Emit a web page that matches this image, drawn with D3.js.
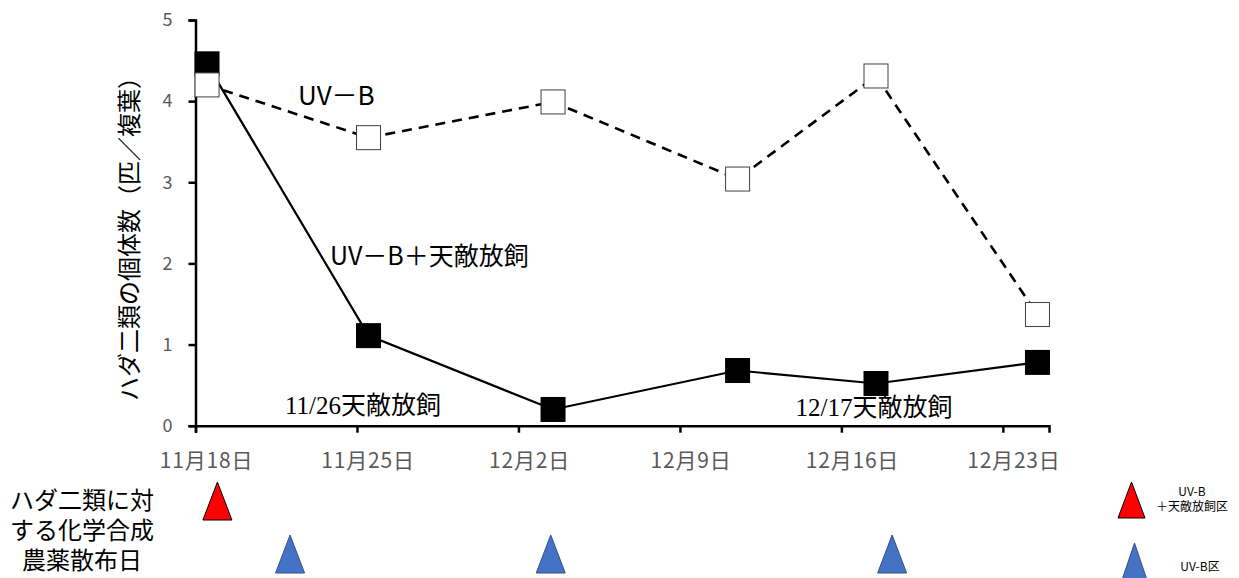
<!DOCTYPE html>
<html>
<head>
    <meta charset="utf-8">
    <title>ハダ二類の個体数</title>
    <script src="https://d3js.org/d3.v7.min.js"></script>
    <style>
        body { margin: 0; background: #fff; }
        text { font-family: "Noto Sans CJK JP", "Noto Sans", sans-serif; }
        .tick-label { fill: #595959; }
        .serif { font-family: "Liberation Serif", "Noto Sans CJK JP", serif; }
    </style>
</head>
<body>
    <div id="chart"></div>

    <script>
        // data (x = days since 11/18)
        const days = [0.5, 7.5, 15.5, 23.5, 29.5, 36.5];
        const uvb = [4.20, 3.55, 3.99, 3.04, 4.31, 1.37];          // UV-B (white squares, dashed)
        const uvbEnemy = [4.46, 1.11, 0.20, 0.68, 0.52, 0.78];     // UV-B + 天敵放飼 (black squares, solid)
        const tickDays = [0, 7, 14, 21, 28, 35];
        const tickLabels = ["11月18日", "11月25日", "12月2日", "12月9日", "12月16日", "12月23日"];
        const yTicks = [0, 1, 2, 3, 4, 5];
        // pesticide spray days
        const redSpray = [0.95];
        const blueSpray = [4.1, 15.4, 30.2];

        const W = 1239, H = 578;
        const svg = d3.select("#chart").append("svg")
            .attr("width", W)
            .attr("height", H);

        const x = d3.scaleLinear().domain([0, 37]).range([195.5, 1049]);
        const y = d3.scaleLinear().domain([0, 5]).range([425.7, 20]);

        // axes
        const yAxis = svg.append("g")
            .attr("transform", `translate(${x(0)},0)`)
            .call(d3.axisLeft(y).tickValues(yTicks).tickSize(7).tickPadding(16).tickFormat(d3.format("d")));
        yAxis.select(".domain").attr("stroke", "#000").attr("stroke-width", 2.5);
        yAxis.selectAll(".tick line").attr("stroke", "#000").attr("stroke-width", 2.5);
        yAxis.selectAll(".tick text")
            .attr("class", "tick-label")
            .attr("font-size", 18)
            .attr("font-family", "Noto Sans CJK JP");

        const xAxis = svg.append("g")
            .attr("transform", `translate(0,${y(0)})`)
            .call(d3.axisBottom(x).tickValues(tickDays).tickSize(7).tickPadding(20)
                .tickFormat((d, i) => tickLabels[i]));
        xAxis.select(".domain").attr("stroke", "#000").attr("stroke-width", 2.5);
        xAxis.selectAll(".tick line").attr("stroke", "#000").attr("stroke-width", 2.5);
        // labels sit at the middle of the day, half a day right of the tick
        const halfDay = x(0.5) - x(0);
        xAxis.selectAll(".tick text")
            .attr("class", "tick-label")
            .attr("x", halfDay - 1)
            .attr("font-size", 21)
            .attr("letter-spacing", 0.8)
            .attr("font-family", "Noto Sans CJK JP");

        // y axis title
        svg.append("text")
            .attr("transform", "translate(127,233) rotate(-90)")
            .attr("text-anchor", "middle")
            .attr("dominant-baseline", "central")
            .attr("font-size", 24)
            .attr("fill", "#000")
            .text("ハダ二類の個体数（匹／複葉）");

        const line = d3.line()
            .x((d, i) => x(days[i]))
            .y(d => y(d));

        const sq = 25;

        // UV-B + natural enemy (solid, black squares)
        svg.append("path")
            .datum(uvbEnemy)
            .attr("d", line)
            .attr("fill", "none")
            .attr("stroke", "#000")
            .attr("stroke-width", 2.2);
        svg.selectAll(".sq-black")
            .data(uvbEnemy)
            .join("rect")
            .attr("class", "sq-black")
            .attr("x", (d, i) => x(days[i]) - sq / 2)
            .attr("y", d => y(d) - sq / 2)
            .attr("width", sq)
            .attr("height", sq)
            .attr("fill", "#000");

        // UV-B (dashed, white squares)
        svg.append("path")
            .datum(uvb)
            .attr("d", line)
            .attr("fill", "none")
            .attr("stroke", "#000")
            .attr("stroke-width", 2.6)
            .attr("stroke-dasharray", "10,7");
        svg.selectAll(".sq-white")
            .data(uvb)
            .join("rect")
            .attr("class", "sq-white")
            .attr("x", (d, i) => x(days[i]) - sq / 2 + 0.5)
            .attr("y", d => y(d) - sq / 2 + 0.5)
            .attr("width", sq - 1)
            .attr("height", sq - 1)
            .attr("fill", "#fff")
            .attr("stroke", "#404040")
            .attr("stroke-width", 1);

        // annotations
        svg.append("text").attr("x", 298).attr("y", 105)
            .attr("font-size", 26).text("UV－B");
        svg.append("text").attr("x", 330).attr("y", 265)
            .attr("font-size", 25).text("UV－B＋天敵放飼");
        svg.append("text").attr("class", "serif").attr("x", 363).attr("y", 414)
            .attr("text-anchor", "middle").attr("font-size", 25).text("11/26天敵放飼");
        svg.append("text").attr("class", "serif").attr("x", 874).attr("y", 416)
            .attr("text-anchor", "middle").attr("font-size", 25).text("12/17天敵放飼");

        // spray label
        const sprayLines = ["ハダ二類に対", "する化学合成", "農薬散布日"];
        svg.append("text")
            .attr("text-anchor", "middle")
            .attr("font-size", 24)
            .selectAll("tspan")
            .data(sprayLines)
            .join("tspan")
            .attr("x", 82)
            .attr("y", (d, i) => 509 + i * 30)
            .text(d => d);

        // triangles
        const tri = (cx, top, w, h) => `M${cx},${top}L${cx + w / 2},${top + h}L${cx - w / 2},${top + h}Z`;
        svg.selectAll(".tri-red")
            .data(redSpray)
            .join("path")
            .attr("class", "tri-red")
            .attr("d", d => tri(x(d), 482, 29, 38))
            .attr("fill", "#ff0000")
            .attr("stroke", "#000")
            .attr("stroke-width", 1);
        svg.selectAll(".tri-blue")
            .data(blueSpray)
            .join("path")
            .attr("class", "tri-blue")
            .attr("d", d => tri(x(d), 535, 29, 38))
            .attr("fill", "#4472c4")
            .attr("stroke", "#2f528f")
            .attr("stroke-width", 1);

        // legend
        svg.append("path").attr("d", tri(1131.5, 482, 27, 36))
            .attr("fill", "#ff0000").attr("stroke", "#000").attr("stroke-width", 1);
        svg.append("text").attr("x", 1192).attr("y", 496).attr("text-anchor", "middle")
            .attr("font-size", 12).text("UV-B");
        svg.append("text").attr("x", 1192).attr("y", 511).attr("text-anchor", "middle")
            .attr("font-size", 12).text("＋天敵放飼区");
        svg.append("path").attr("d", tri(1134.5, 543, 25, 37))
            .attr("fill", "#4472c4").attr("stroke", "#2f528f").attr("stroke-width", 1);
        svg.append("text").attr("x", 1200).attr("y", 571).attr("text-anchor", "middle")
            .attr("font-size", 12).text("UV-B区");
    </script>
</body>
</html>
